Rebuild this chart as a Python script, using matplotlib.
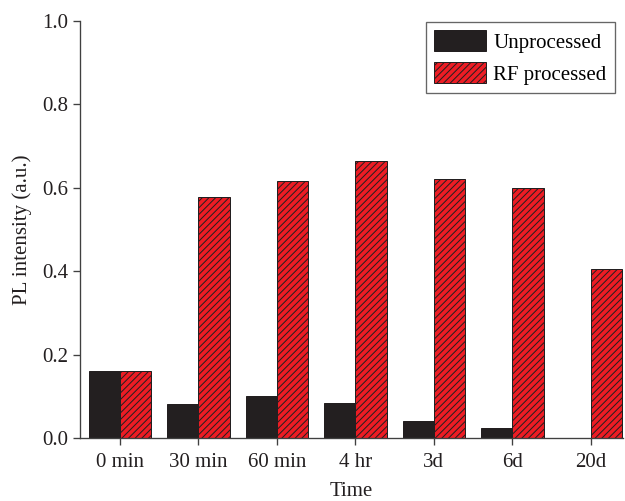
import numpy as np
import matplotlib
matplotlib.use("Agg")
import matplotlib.pyplot as plt

categories = ["0 min", "30 min", "60 min", "4 hr", "3d", "6d", "20d"]
unprocessed = [0.160, 0.081, 0.101, 0.083, 0.041, 0.024, 0.0]
rf_processed = [0.160, 0.579, 0.616, 0.664, 0.621, 0.600, 0.405]

plt.rcParams['font.family'] = ['Liberation Serif', 'DejaVu Serif']
plt.rcParams['hatch.linewidth'] = 0.6

dark = '#231f20'
red = '#ed1c24'
axcol = '#404040'
fs = 12.5

fig = plt.figure(figsize=(625/120, 501/120), dpi=120)
ax = fig.add_axes([80/625, 63/501, 543/625, 417/501])

x = np.arange(len(categories))
w = 0.4
ax.bar(x - w/2, unprocessed, w, color=dark, edgecolor=dark, linewidth=0.6, label='Unprocessed')
ax.bar(x + w/2, rf_processed, w, color=red, edgecolor=dark, linewidth=0.6,
       hatch='//////', label='RF processed')

ax.set_xlim(-0.51, 6.41)
ax.set_ylim(0, 1.0)
ax.set_xticks(x)
ax.set_xticklabels(categories)
ax.set_yticks(np.arange(0, 1.01, 0.2))
ax.set_yticklabels(['%.1f' % v for v in np.arange(0, 1.01, 0.2)])

for s in ['top', 'right']:
    ax.spines[s].set_visible(False)
for s in ['left', 'bottom']:
    ax.spines[s].set_color(axcol)
    ax.spines[s].set_linewidth(0.8)

ax.tick_params(axis='both', direction='out', length=4.2, width=0.8, color=axcol,
               labelsize=fs, labelcolor='#231f20')
ax.tick_params(axis='x', pad=5)
ax.tick_params(axis='y', pad=3)

ax.set_xlabel('Time', fontsize=fs, color='#231f20', labelpad=5.5)
ax.set_ylabel('PL intensity (a.u.)', fontsize=fs, color='#231f20', labelpad=6)

leg = ax.legend(loc='upper right', bbox_to_anchor=(0.985, 0.9976), borderaxespad=0,
                fancybox=False, fontsize=fs, handlelength=2.5, handleheight=1.15,
                labelspacing=0.45, handletextpad=0.35, borderpad=0.4)
leg.get_frame().set_edgecolor(axcol)
leg.get_frame().set_linewidth(0.8)

fig.savefig('out.png', dpi=120)
